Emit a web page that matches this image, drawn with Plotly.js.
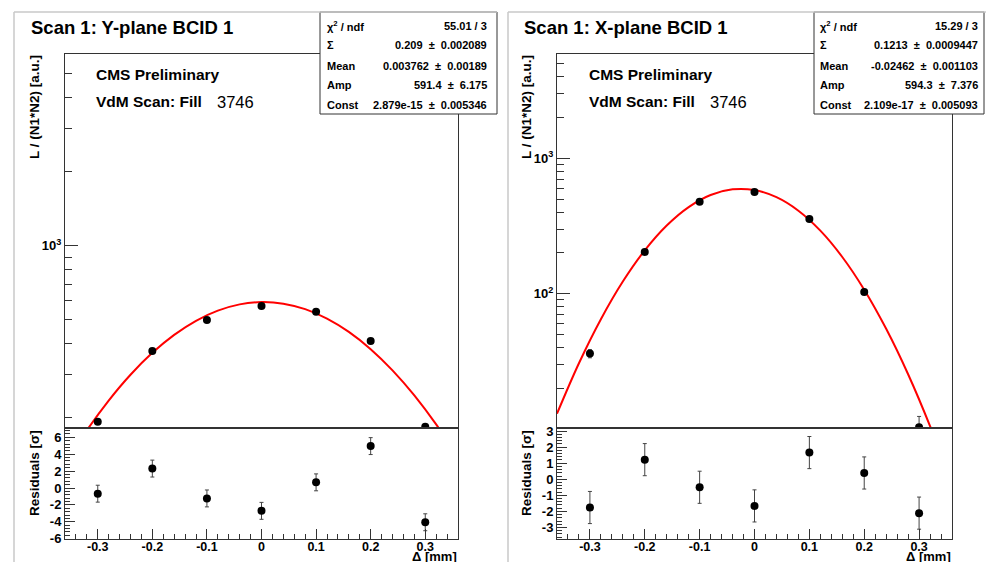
<!DOCTYPE html>
<html><head><meta charset="utf-8">
<script src="https://cdn.plot.ly/plotly-3.0.1.min.js"></script>
<style>html,body{margin:0;padding:0;background:#fff}#chart{width:986px;height:562px}</style>
</head><body><div id="chart"></div>
<script>
// ---- data ----
const scanX = [-0.3, -0.2, -0.1, 0, 0.1, 0.2, 0.3];
// Y-plane (left panel)
const yPlaneLumi = [193, 374, 500, 570, 540, 411, 184];
const yPlaneLumiErr = [3, 4, 5, 5, 5, 4, 3];
const yPlaneResid = [-0.67, 2.30, -1.23, -2.70, 0.67, 4.96, -4.05];
// X-plane (right panel)
const xPlaneLumi = [36.1, 203, 478, 564, 356, 103, 10.3];
const xPlaneLumiErr = [2.5, 3, 5, 5, 4, 2, 2.1];
const xPlaneResid = [-1.76, 1.22, -0.50, -1.66, 1.66, 0.39, -2.11];
const residErr = [1, 1, 1, 1, 1, 1, 1];
// fitted curves (values along the red lines)
const fitX = [-0.36,-0.32,-0.28,-0.24,-0.20,-0.16,-0.12,-0.08,-0.04,0,0.04,0.08,0.12,0.16,0.20,0.24,0.28,0.32,0.36];
const yPlaneFit = [130.0,178.1,235.3,299.6,367.7,435.1,496.3,545.7,578.6,591.3,582.6,553.3,506.6,447.2,380.6,312.2,246.9,188.2,138.3];
const xPlaneFit = [13.0,30.65,64.8,122.9,209.0,318.8,436.2,535.6,589.5,582.2,515.8,409.8,292.0,186.6,107.0,55.0,25.4,10.5,3.9];
// texts
const panelTitles = ['Scan 1: Y-plane BCID 1', 'Scan 1: X-plane BCID 1'];
const statLabels = ['χ<sup>2</sup> / ndf', 'Σ', 'Mean', 'Amp', 'Const'];
const yPlaneStats = ['55.01 / 3', '0.209  ±  0.002089', '0.003762  ±  0.00189', '591.4  ±  6.175', '2.879e-15  ±  0.005346'];
const xPlaneStats = ['15.29 / 3', '0.1213  ±  0.0009447', '-0.02462  ±  0.001103', '594.3  ±  7.376', '2.109e-17  ±  0.005093'];
const fillNumber = '3746';
const xTickVals = [-0.3, -0.2, -0.1, 0, 0.1, 0.2, 0.3];
const xTickText = ['-0.3', '-0.2', '-0.1', '0', '0.1', '0.2', '0.3'];
const yResTickValsL = [-6, -4, -2, 0, 2, 4, 6];
const yResTickTextL = ['-6', '-4', '-2', '0', '2', '4', '6'];
const yResTickValsR = [-3, -2, -1, 0, 1, 2, 3];
const yResTickTextR = ['-3', '-2', '-1', '0', '1', '2', '3'];

// ---- layout helpers ----
const W = 986, H = 562;
const px = x => x / W, py = y => 1 - y / H;
const FONT = 'Liberation Sans, Arial, Helvetica, sans-serif';
const AX = '#333';

const panels = [
  {x0: 65, x1: 458, lumi: yPlaneLumi, lerr: yPlaneLumiErr, res: yPlaneResid, fit: yPlaneFit,
   yrange: [2.26, 3.78], tickvals: [1000], ticktext: ['10<sup>3</sup>'],
   minor: [200,300,400,500,600,700,800,900,2000,3000,4000,5000],
   rrange: [-6.03, 7.1], rtv: yResTickValsL, rtt: yResTickTextL, rminor: 0.4,
   stats: yPlaneStats, boxX0: 320, boxX1: 497, labX: 325, valX: 489,
   titleX: 29, ytitleX: 34, cmsX: 94, fillX: 215},
  {x0: 557, x1: 952, lumi: xPlaneLumi, lerr: xPlaneLumiErr, res: xPlaneResid, fit: xPlaneFit,
   yrange: [1.008, 3.77], tickvals: [100, 1000], ticktext: ['10<sup>2</sup>', '10<sup>3</sup>'],
   minor: [20,30,40,50,60,70,80,90,200,300,400,500,600,700,800,900,2000,3000,4000,5000],
   rrange: [-3.72, 3.19], rtv: yResTickValsR, rtt: yResTickTextR, rminor: 0.2,
   stats: xPlaneStats, boxX0: 814, boxX1: 984, labX: 818, valX: 980,
   titleX: 522, ytitleX: 526, cmsX: 587, fillX: 708}
];

const upperDom = [py(428), py(54)];
const lowerDom = [py(539), py(428)];

const traces = [];
const layout = {
  width: W, height: H, margin: {l: 0, r: 0, t: 0, b: 0},
  paper_bgcolor: '#fff', plot_bgcolor: '#fff', showlegend: false,
  font: {family: FONT, color: '#000'},
  annotations: [], shapes: []
};

panels.forEach((p, i) => {
  const n = i * 2;
  const xu = 'x' + (n + 1 === 1 ? '' : n + 1), yu = 'y' + (n + 1 === 1 ? '' : n + 1);
  const xl = 'x' + (n + 2), yl = 'y' + (n + 2);
  const kxu = 'xaxis' + (n + 1 === 1 ? '' : n + 1), kyu = 'yaxis' + (n + 1 === 1 ? '' : n + 1);
  const kxl = 'xaxis' + (n + 2), kyl = 'yaxis' + (n + 2);
  const dom = [px(p.x0), px(p.x1)];

  traces.push({x: fitX, y: p.fit, xaxis: xu, yaxis: yu, type: 'scatter', mode: 'lines',
    line: {color: '#ff0000', width: 2, shape: 'spline', smoothing: 1}, hoverinfo: 'skip'});
  traces.push({x: scanX, y: p.lumi, xaxis: xu, yaxis: yu, type: 'scatter', mode: 'markers',
    marker: {color: '#000', size: 8},
    error_y: {type: 'data', array: p.lerr, color: '#444', thickness: 1, width: 2}});
  traces.push({x: scanX, y: p.res, xaxis: xl, yaxis: yl, type: 'scatter', mode: 'markers',
    marker: {color: '#000', size: 8},
    error_y: {type: 'data', array: residErr, color: '#444', thickness: 1, width: 2}});

  layout[kxu] = {domain: dom, range: [-0.36, 0.36], anchor: yu, showticklabels: false, ticks: '',
    showline: true, mirror: true, linecolor: AX, linewidth: 1, zeroline: false, showgrid: false, fixedrange: true};
  layout[kyu] = {domain: upperDom, type: 'log', range: p.yrange, anchor: xu,
    tickmode: 'array', tickvals: p.tickvals, ticktext: p.ticktext, ticks: 'inside', ticklen: 13, tickcolor: AX,
    tickfont: {family: FONT, size: 13, weight: 'bold'},
    minor: {tickmode: 'array', tickvals: p.minor, ticks: 'inside', ticklen: 7, tickcolor: AX, showgrid: false},
    showline: true, mirror: true, linecolor: AX, linewidth: 1, zeroline: false, showgrid: false, fixedrange: true};
  layout[kxl] = {domain: dom, range: [-0.36, 0.36], anchor: yl,
    tickmode: 'array', tickvals: xTickVals, ticktext: xTickText, ticks: 'inside', ticklen: 10, tickcolor: AX,
    tickfont: {family: FONT, size: 12.5, weight: 'bold'}, ticklabelstandoff: -4,
    minor: {tick0: 0, dtick: 0.02, ticks: 'inside', ticklen: 5, tickcolor: AX, showgrid: false},
    showline: true, mirror: true, linecolor: AX, linewidth: 1, zeroline: false, showgrid: false, fixedrange: true};
  layout[kyl] = {domain: lowerDom, range: p.rrange, anchor: xl,
    tickmode: 'array', tickvals: p.rtv, ticktext: p.rtt, ticks: 'inside', ticklen: 10, tickcolor: AX,
    tickfont: {family: FONT, size: 13, weight: 'bold'},
    minor: {tick0: 0, dtick: p.rminor, ticks: 'inside', ticklen: 5, tickcolor: AX, showgrid: false},
    showline: true, mirror: true, linecolor: AX, linewidth: 1, zeroline: false, showgrid: false, fixedrange: true};

  // stats box
  layout.shapes.push({type: 'rect', xref: 'paper', yref: 'paper', x0: px(p.boxX0), x1: px(p.boxX1),
    y0: py(114), y1: py(12), fillcolor: '#fff', line: {color: AX, width: 1}, layer: 'above'});
  const rowsY = [26, 45, 66, 85, 105];
  statLabels.forEach((lab, k) => {
    layout.annotations.push({xref: 'paper', yref: 'paper', x: px(p.labX), y: py(rowsY[k]),
      xanchor: 'left', yanchor: 'middle', showarrow: false, text: '<b>' + lab + '</b>',
      font: {family: FONT, size: 11, color: '#000'}});
    layout.annotations.push({xref: 'paper', yref: 'paper', x: px(p.valX), y: py(rowsY[k]),
      xanchor: 'right', yanchor: 'middle', showarrow: false, text: '<b>' + p.stats[k] + '</b>',
      font: {family: FONT, size: 11, color: '#000'}});
  });
  // titles and labels
  layout.annotations.push({xref: 'paper', yref: 'paper', x: px(p.titleX), y: py(27), xanchor: 'left', yanchor: 'middle',
    showarrow: false, text: '<b>' + panelTitles[i] + '</b>', font: {family: FONT, size: 18.5, color: '#000'}});
  layout.annotations.push({xref: 'paper', yref: 'paper', x: px(p.cmsX), y: py(75), xanchor: 'left', yanchor: 'middle',
    showarrow: false, text: '<b>CMS Preliminary</b>', font: {family: FONT, size: 15.5, color: '#000'}});
  layout.annotations.push({xref: 'paper', yref: 'paper', x: px(p.cmsX), y: py(102), xanchor: 'left', yanchor: 'middle',
    showarrow: false, text: '<b>VdM Scan: Fill</b>', font: {family: FONT, size: 15.5, color: '#000'}});
  layout.annotations.push({xref: 'paper', yref: 'paper', x: px(p.fillX), y: py(102), xanchor: 'left', yanchor: 'middle',
    showarrow: false, text: fillNumber, font: {family: FONT, size: 16.5, color: '#000'}});
  layout.annotations.push({xref: 'paper', yref: 'paper', x: px(p.ytitleX), y: py(107), xanchor: 'center', yanchor: 'middle',
    textangle: -90, showarrow: false, text: '<b>L / (N1*N2) [a.u.]</b>', font: {family: FONT, size: 13.5, color: '#000'}});
  layout.annotations.push({xref: 'paper', yref: 'paper', x: px(p.ytitleX), y: py(473), xanchor: 'center', yanchor: 'middle',
    textangle: -90, showarrow: false, text: '<b>Residuals [σ]</b>', font: {family: FONT, size: 13.5, color: '#000'}});
  layout.annotations.push({xref: 'paper', yref: 'paper', x: px(p.x1), y: 0, xanchor: 'right', yanchor: 'bottom',
    yshift: -3, showarrow: false, borderpad: 0, text: '<b>Δ [mm]</b>', font: {family: FONT, size: 13, color: '#000'}});
});

// canvas borders
const G = '#c8c8c8';
layout.shapes.push({type: 'line', xref: 'paper', yref: 'paper', x0: px(14), x1: px(14), y0: 0, y1: py(12), line: {color: G, width: 1.5}});
layout.shapes.push({type: 'line', xref: 'paper', yref: 'paper', x0: px(14), x1: px(497), y0: py(12), y1: py(12), line: {color: G, width: 1.5}});
layout.shapes.push({type: 'line', xref: 'paper', yref: 'paper', x0: px(508), x1: px(508), y0: 0, y1: py(12), line: {color: G, width: 1.5}});
layout.shapes.push({type: 'line', xref: 'paper', yref: 'paper', x0: px(508), x1: 1, y0: py(12), y1: py(12), line: {color: G, width: 1.5}});

Plotly.newPlot('chart', traces, layout, {staticPlot: true, displayModeBar: false});
</script></body></html>
